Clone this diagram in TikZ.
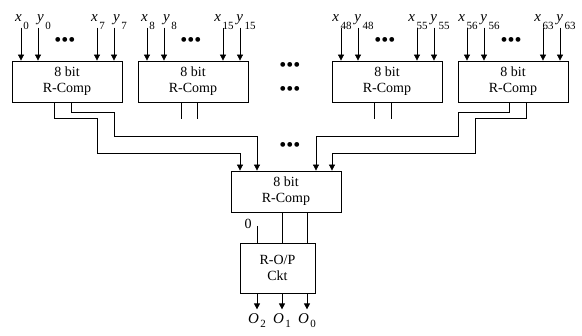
\documentclass[tikz,border=0pt]{standalone}
\usepackage{fontspec}
\setmainfont{Liberation Serif}
\usetikzlibrary{arrows.meta}
\newcommand{\bdots}{\textbullet\textbullet\textbullet}
\newcommand{\sig}[3]{\textit{#1}\hspace{1.5pt}\raisebox{-#3}{\fontsize{11}{11}\selectfont #2}}

\begin{document}
\begin{tikzpicture}[x=1pt,y=-1pt,
comp/.style={rectangle,draw,line width=0.8pt,minimum width=110pt,minimum height=41pt,
inner sep=0pt,align=center,font=\fontsize{14}{16}\selectfont},
arrow/.style={-{Triangle[length=6pt,width=6pt]},line width=0.8pt},
wire/.style={line width=0.8pt},
lbl/.style={inner sep=0pt,anchor=south,font=\fontsize{15}{16}\selectfont},
dots/.style={inner sep=0pt,font=\fontsize{20}{20}\selectfont},
num/.style={inner sep=0pt,font=\fontsize{14}{16}\selectfont}
]
\useasboundingbox (0,0) rectangle (582,336);
% first stage
\node[comp] (b1) at (67,81.5) {8 bit\\R-Comp};
\node[comp] (b2) at (193,81.5) {8 bit\\R-Comp};
\node[comp] (b3) at (387,81.5) {8 bit\\R-Comp};
\node[comp] (b4) at (513,81.5) {8 bit\\R-Comp};
% second stage
\node[comp] (mid) at (286,191.5) {8 bit\\R-Comp};
\node[comp,minimum width=75pt,minimum height=50pt] (rop) at (277.5,268) {R-O/P\\Ckt};

% inputs
\foreach \n/\xa/\xb in {b1/0/7,b2/8/15,b3/48/55,b4/56/63}{
  \foreach \dx/\v/\s/\lx in {-46/x/\xa/1,-29/y/\xa/6,30/x/\xb/1,47/y/\xb/6}{
    \coordinate (\n\v\s) at ([xshift=\dx pt,yshift=33pt]\n.north);
    \draw[arrow] (\n\v\s) -- (\n\v\s |- \n.north);
    \node[lbl] (l\n\v\s) at ([xshift=\lx pt,yshift=-2pt]\n\v\s) {\sig{\v}{\s}{8pt}};
  }
  \node[dots] (d\n) at ([xshift=-2pt,yshift=19pt]\n.north) {\bdots};
}
\node[dots] (dm1) at (290,67) {\bdots};
\node[dots] (dm2) at (290,91) {\bdots};
\node[dots] (dm3) at (290,147) {\bdots};

% wires to second stage
\draw[arrow] ([xshift=-13pt]b1.south) -- ++(0,16) -| ++(43,35) -| ([xshift=-46pt]mid.north);
\draw[arrow] ([xshift=4pt]b1.south) -- ++(0,10) -| ++(43,24) -| ([xshift=-29pt]mid.north);
\draw[arrow] ([xshift=-4pt]b4.south) -- ++(0,10) -| ++(-51,24) -| ([xshift=30pt]mid.north);
\draw[arrow] ([xshift=13pt]b4.south) -- ++(0,16) -| ++(-51,35) -| ([xshift=46pt]mid.north);
\draw[wire] ([xshift=-12pt]b2.south) -- ++(0,17);
\draw[wire] ([xshift=4pt]b2.south) -- ++(0,17);
\draw[wire] ([xshift=-13pt]b3.south) -- ++(0,17);
\draw[wire] ([xshift=4pt]b3.south) -- ++(0,17);

% result circuit
\foreach \dx in {-4,21}{
  \draw[wire] ([xshift=\dx pt]mid.south) -- ([xshift=\dx pt]mid.south |- rop.north);
}
\coordinate (zero) at (257,226);
\draw[wire] (zero) -- (zero |- rop.north);
\node[num] (lzero) at (248,224) {0};
\foreach \dx/\s in {-20.5/2,4.5/1,29.5/0}{
  \coordinate (o\s) at ([xshift=\dx pt,yshift=-16pt]rop.south);
  \draw[arrow] (o\s |- rop.south) -- (o\s);
  \node[lbl,anchor=north] (lo\s) at ([yshift=-4pt]o\s) {\sig{O}{\s}{4pt}};
}
\end{tikzpicture}
\end{document}
